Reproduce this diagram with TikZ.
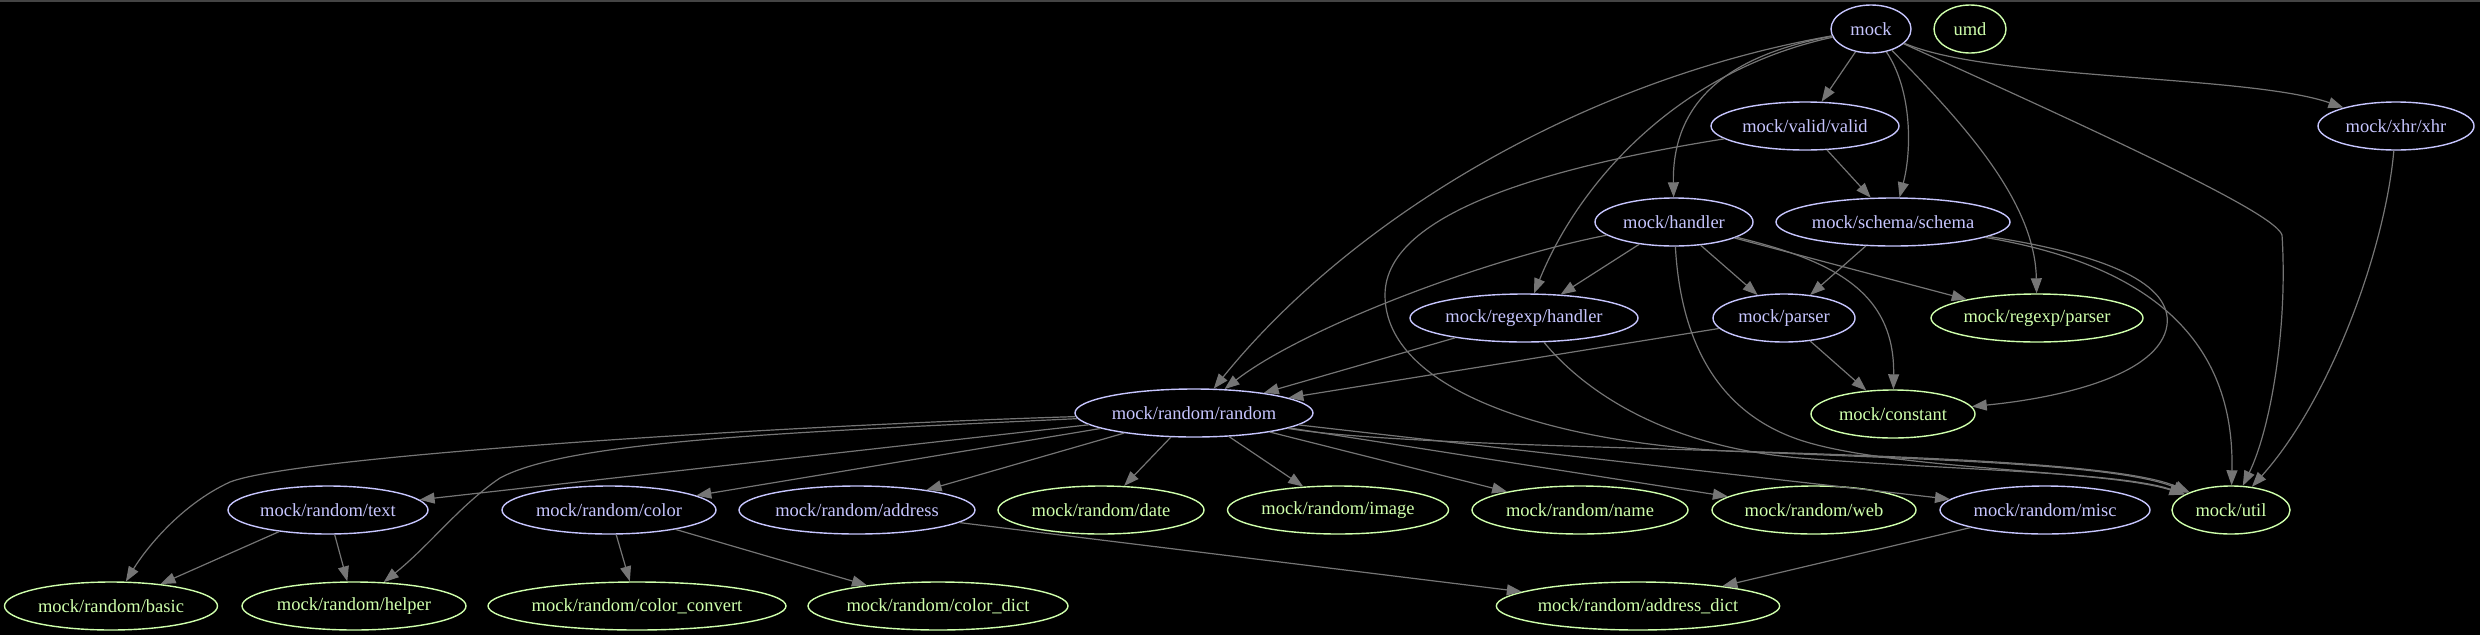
\documentclass[tikz,border=0pt]{standalone}
\usepackage{fontspec}
\setmainfont{Liberation Serif}
\usetikzlibrary{shapes.geometric,arrows.meta}
\definecolor{lavc}{HTML}{C6C5FE}
\definecolor{leafc}{HTML}{CFFFAC}
\definecolor{edgec}{HTML}{757575}
\definecolor{topc}{HTML}{444444}
\newcommand\nodefnt{\fontsize{18.5pt}{22pt}\selectfont}
\tikzset{
  dep/.style={ellipse, draw=lavc, text=lavc, line width=1.4pt, minimum height=48pt, inner sep=0pt, font=\nodefnt},
  leaf/.style={dep, draw=leafc, text=leafc},
  edge/.style={draw=edgec, line width=1.2pt, -{Triangle[length=15pt,width=11pt]}}
}
\begin{document}
\begin{tikzpicture}[x=1pt,y=-1pt]
\useasboundingbox (0,0) rectangle (2480,635);
\fill[black] (0,0) rectangle (2480,635);
\fill[topc] (0,0) rectangle (2480,2);
% nodes
\node[dep, minimum width=80pt] (mock) at (1871,29) {mock};
\node[leaf, minimum width=72pt] (umd) at (1970,29) {umd};
\node[dep, minimum width=188pt] (valid) at (1805,126) {mock/valid/valid};
\node[dep, minimum width=156pt] (xhr) at (2396,126) {mock/xhr/xhr};
\node[dep, minimum width=158pt] (handler) at (1674,222) {mock/handler};
\node[dep, minimum width=234pt] (schema) at (1893,222) {mock/schema/schema};
\node[dep, minimum width=228pt] (rhandler) at (1524,318) {mock/regexp/handler};
\node[dep, minimum width=142pt] (parser) at (1784,318) {mock/parser};
\node[leaf, minimum width=212pt] (rparser) at (2037,318) {mock/regexp/parser};
\node[dep, minimum width=238pt] (random) at (1194,413) {mock/random/random};
\node[leaf, minimum width=164pt] (constant) at (1893,414) {mock/constant};
\node[dep, minimum width=200pt] (text) at (328,510) {mock/random/text};
\node[dep, minimum width=214pt] (color) at (609,510) {mock/random/color};
\node[dep, minimum width=236pt] (address) at (857,510) {mock/random/address};
\node[leaf, minimum width=206pt] (date) at (1101,510) {mock/random/date};
\node[leaf, minimum width=221pt] (image) at (1338,510) {mock/random/image};
\node[leaf, minimum width=216pt] (name) at (1580,510) {mock/random/name};
\node[leaf, minimum width=204pt] (web) at (1814,510) {mock/random/web};
\node[dep, minimum width=210pt] (misc) at (2045,510) {mock/random/misc};
\node[leaf, minimum width=118pt] (util) at (2231,510) {mock/util};
\node[leaf, minimum width=213pt] (basic) at (111,606) {mock/random/basic};
\node[leaf, minimum width=224pt] (helper) at (354,606) {mock/random/helper};
\node[leaf, minimum width=298pt] (convert) at (637,606) {mock/random/color\_convert};
\node[leaf, minimum width=260pt] (cdict) at (938,606) {mock/random/color\_dict};
\node[leaf, minimum width=280pt] (adict) at (1638,606) {mock/random/address\_dict};
% via points
\coordinate (mu) at (2282,235);
\coordinate (vu1) at (1385,295);
\coordinate (vu2) at (1750,452);
\coordinate (hu) at (1800,440);
\coordinate (sc) at (2167,325);
\coordinate (ru) at (1800,458);
\coordinate (rb) at (230,482);
\coordinate (rh) at (500,478);
% mock
\draw[edge] (mock) -- (valid);
\draw[edge] (mock) .. controls (1912,90) and (1912,150) .. (schema);
\draw[edge] (mock) .. controls (1990,80) and (2250,75) .. (xhr);
\draw[edge] (mock) .. controls (2150,155) and (2275,215) .. (mu) .. controls (2288,330) and (2270,430) .. (util);
\draw[edge] (mock) .. controls (1960,120) and (2035,200) .. (rparser);
\draw[edge] (mock) .. controls (1730,55) and (1672,100) .. (handler);
\draw[edge] (mock) .. controls (1680,70) and (1580,180) .. (rhandler);
\draw[edge] (mock) .. controls (1580,80) and (1350,220) .. (random);
% valid
\draw[edge] (valid) -- (schema);
\draw[edge] (valid) .. controls (1560,165) and (1385,210) .. (vu1) .. controls (1385,390) and (1550,445) .. (vu2) .. controls (1950,460) and (2120,465) .. (util);
% xhr
\draw[edge] (xhr) .. controls (2385,250) and (2330,400) .. (util);
% handler
\draw[edge] (handler) -- (rhandler);
\draw[edge] (handler) -- (parser);
\draw[edge] (handler) -- (rparser);
\draw[edge] (handler) .. controls (1830,260) and (1895,290) .. (constant);
\draw[edge] (handler) .. controls (1480,260) and (1300,330) .. (random);
\draw[edge] (handler) .. controls (1680,330) and (1710,410) .. (hu) .. controls (1890,470) and (2110,470) .. (util);
% schema
\draw[edge] (schema) -- (parser);
\draw[edge] (schema) .. controls (2110,255) and (2172,285) .. (sc) .. controls (2160,375) and (2060,398) .. (constant);
\draw[edge] (schema) .. controls (2150,265) and (2235,340) .. (util);
% regexp handler
\draw[edge] (rhandler) -- (random);
\draw[edge] (rhandler) .. controls (1575,380) and (1650,445) .. (ru) .. controls (1950,470) and (2120,472) .. (util);
% parser
\draw[edge] (parser) -- (random);
\draw[edge] (parser) -- (constant);
% random
\draw[edge] (random) -- (text);
\draw[edge] (random) -- (color);
\draw[edge] (random) -- (address);
\draw[edge] (random) -- (date);
\draw[edge] (random) -- (image);
\draw[edge] (random) -- (name);
\draw[edge] (random) -- (web);
\draw[edge] (random) -- (misc);
\draw[edge] (random) .. controls (1450,455) and (2080,445) .. (util);
\draw[edge] (random) .. controls (800,425) and (300,455) .. (rb) .. controls (180,505) and (145,550) .. (basic);
\draw[edge] (random) .. controls (800,432) and (570,440) .. (rh) .. controls (460,505) and (430,545) .. (helper);
% second level
\draw[edge] (text) -- (basic);
\draw[edge] (text) -- (helper);
\draw[edge] (color) -- (convert);
\draw[edge] (color) -- (cdict);
\draw[edge] (address) -- (adict);
\draw[edge] (misc) -- (adict);
\end{tikzpicture}
\end{document}
